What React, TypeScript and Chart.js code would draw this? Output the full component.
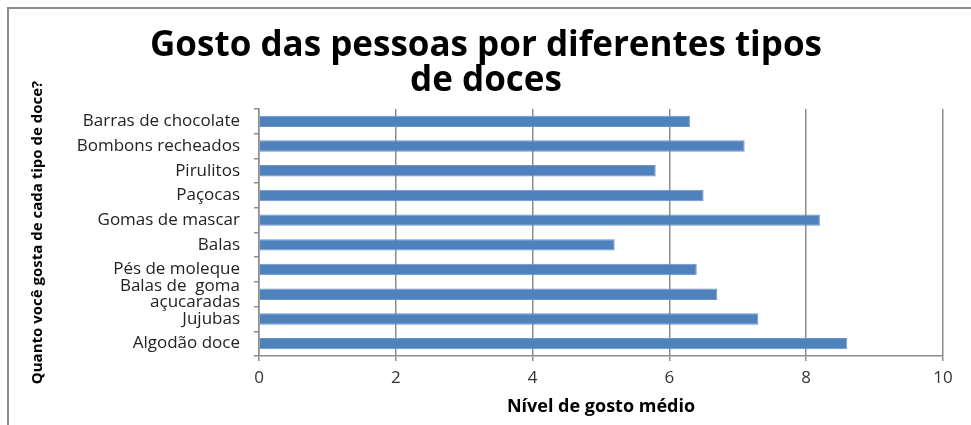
import React, { useEffect, useRef } from "react";
import { Chart, registerables } from "chart.js";

Chart.register(...registerables);

const categories: (string | string[])[] = [
  "Barras de chocolate",
  "Bombons recheados",
  "Pirulitos",
  "Paçocas",
  "Gomas de mascar",
  "Balas",
  "Pés de moleque",
  ["Balas de  goma", "açucaradas"],
  "Jujubas",
  "Algodão doce",
];

const values: number[] = [6.3, 7.1, 5.8, 6.5, 8.2, 5.2, 6.4, 6.7, 7.3, 8.6];

const xTicks: number[] = [0, 2, 4, 6, 8, 10];

const titleLines: string[] = ["Gosto das pessoas por diferentes tipos", "de doces"];
const yTitle = "Quanto você gosta de cada tipo de doce?";
const xTitle = "Nível de gosto médio";

const framePlugin = {
  id: "frame",
  beforeDraw(chart: any) {
    const ctx = chart.ctx;
    ctx.save();
    ctx.strokeStyle = "#8c8c8c";
    ctx.lineWidth = 2;
    ctx.beginPath();
    ctx.moveTo(8, 425);
    ctx.lineTo(8, 8);
    ctx.lineTo(971, 8);
    ctx.stroke();
    ctx.restore();
  },
};

export default function App() {
  const ref = useRef<HTMLCanvasElement | null>(null);

  useEffect(() => {
    if (!ref.current) return;
    const chart = new Chart(ref.current, {
      type: "bar",
      data: {
        labels: categories as any,
        datasets: [
          {
            data: values,
            backgroundColor: "#4F81BD",
            borderColor: "#6a96cc",
            borderWidth: 1,
            barPercentage: 0.46,
            categoryPercentage: 1,
          },
        ],
      },
      plugins: [framePlugin],
      options: {
        indexAxis: "y",
        animation: false,
        responsive: false,
        maintainAspectRatio: false,
        layout: { padding: { top: 0, right: 28, bottom: 7, left: 29 } },
        plugins: {
          legend: { display: false },
          tooltip: { enabled: false },
          title: {
            display: true,
            text: titleLines,
            color: "#000000",
            font: { family: "'Open Sans', sans-serif", size: 35, weight: "bold", lineHeight: 1.0 },
            padding: { top: 29, bottom: 10 },
          },
        },
        scales: {
          x: {
            min: 0,
            max: 10,
            afterBuildTicks: (scale: any) => {
              scale.ticks = xTicks.map((v) => ({ value: v }));
            },
            grid: {
              color: "#8c8c8c",
              lineWidth: 1.5,
              tickLength: 5,
              drawOnChartArea: true,
            },
            border: { color: "#8c8c8c", width: 1.5 },
            ticks: {
              color: "#333333",
              font: { family: "'Open Sans', sans-serif", size: 17 },
              padding: 7,
            },
            title: {
              display: true,
              text: xTitle,
              color: "#000000",
              font: { family: "'Open Sans', sans-serif", size: 18, weight: "bold" },
              padding: { top: 1, bottom: 0 },
            },
          },
          y: {
            afterFit: (scale: any) => {
              scale.width = 259 - 29;
            },
            grid: {
              offset: true,
              drawOnChartArea: false,
              color: "#8c8c8c",
              lineWidth: 1.5,
              tickLength: 5,
            },
            border: { color: "#8c8c8c", width: 1.5 },
            ticks: {
              autoSkip: false,
              color: "#222222",
              font: { family: "'Open Sans', sans-serif", size: 17, lineHeight: 0.9 },
              padding: 14,
            },
            title: {
              display: true,
              text: yTitle,
              color: "#000000",
              font: { family: "'Open Sans', sans-serif", size: 15, weight: "bold" },
              padding: { top: 0, bottom: 0 },
            },
          },
        },
      },
    });
    return () => chart.destroy();
  }, []);

  return (
    <div style={{ position: "absolute", left: 0, top: 0, width: 971, height: 425, background: "#fff" }}>
      <canvas ref={ref} width={971} height={425} style={{ display: "block", width: 971, height: 425 }} />
    </div>
  );
}
